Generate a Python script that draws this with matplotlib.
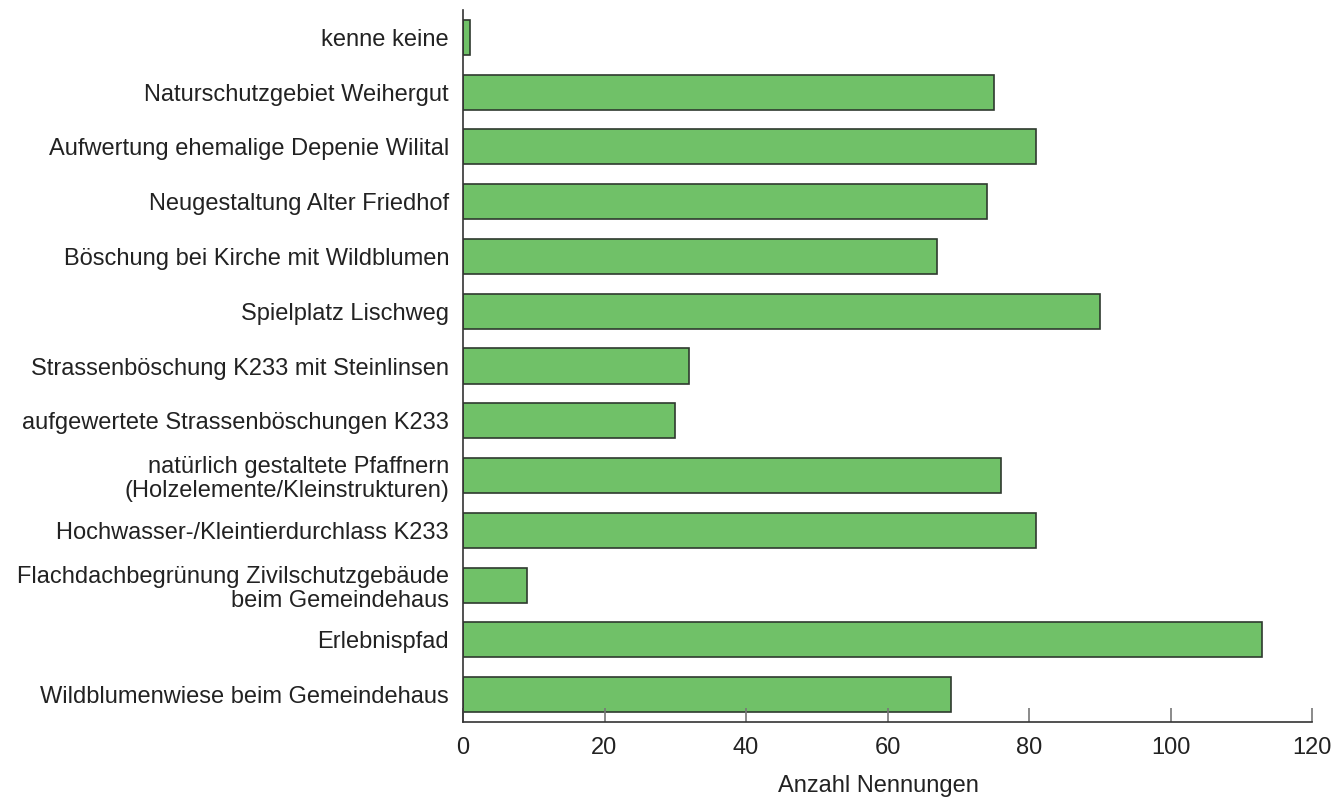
import matplotlib
matplotlib.use("Agg")
import matplotlib.pyplot as plt

categories = [
    "kenne keine",
    "Naturschutzgebiet Weihergut",
    "Aufwertung ehemalige Depenie Wilital",
    "Neugestaltung Alter Friedhof",
    "Böschung bei Kirche mit Wildblumen",
    "Spielplatz Lischweg",
    "Strassenböschung K233 mit Steinlinsen",
    "aufgewertete Strassenböschungen K233",
    "natürlich gestaltete Pfaffnern\n(Holzelemente/Kleinstrukturen)",
    "Hochwasser-/Kleintierdurchlass K233",
    "Flachdachbegrünung Zivilschutzgebäude\nbeim Gemeindehaus",
    "Erlebnispfad",
    "Wildblumenwiese beim Gemeindehaus",
]
values = [1, 75, 81, 74, 67, 90, 32, 30, 76, 81, 9, 113, 69]
xticks = [0, 20, 40, 60, 80, 100, 120]

plt.rcParams['font.family'] = ['Liberation Sans', 'DejaVu Sans']

fig = plt.figure(figsize=(13.35, 7.98), dpi=100)
ax = fig.add_axes([463/1335, 1 - 722/798, (1312 - 463)/1335, (722 - 10)/798])

ypos = list(range(len(categories)))
ax.barh(ypos, values, height=0.64, color="#70C168", edgecolor="#2f3a2f", linewidth=1.2)
ax.set_ylim(len(categories) - 0.5, -0.5)
ax.set_xlim(0, 120)
ax.set_yticks(ypos)
ax.set_yticklabels(categories, fontsize=17, color="#222222", ha="right",
                   multialignment="right", linespacing=1.12)
ax.set_xticks(xticks)
ax.set_xticklabels([str(t) for t in xticks], fontsize=17, color="#222222")
ax.tick_params(axis="y", length=0, pad=10)
ax.tick_params(axis="x", direction="in", length=10, width=1.2, color="#777777", pad=11)
ax.set_xlabel("Anzahl Nennungen", fontsize=17, color="#222222")
ax.xaxis.set_label_coords(0.489, -0.074)
for s in ["top", "right"]:
    ax.spines[s].set_visible(False)
ax.spines["left"].set_color("#333333")
ax.spines["bottom"].set_color("#333333")
ax.spines["left"].set_linewidth(1.2)
ax.spines["bottom"].set_linewidth(1.2)

fig.savefig("out.png", dpi=100)
